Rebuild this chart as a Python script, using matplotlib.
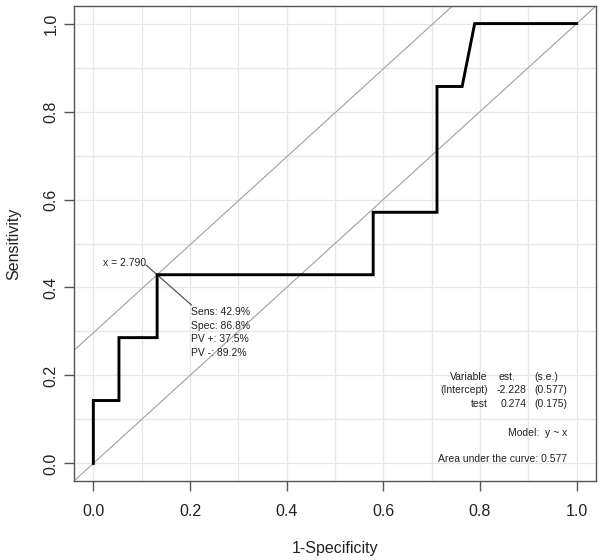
import matplotlib
matplotlib.use("Agg")
import matplotlib.pyplot as plt
import numpy as np

plt.rcParams['font.family'] = ['Liberation Sans', 'DejaVu Sans']

# ROC curve data (1-Specificity, Sensitivity)
fpr = [0.0, 0.0, 0.053, 0.053, 0.132, 0.132, 0.579, 0.579, 0.711, 0.711, 0.763, 0.789, 1.0]
tpr = [0.0, 0.143, 0.143, 0.286, 0.286, 0.429, 0.429, 0.571, 0.571, 0.857, 0.857, 1.0, 1.0]

# optimal cut point
opt_fpr = 0.132
opt_tpr = 0.429
opt_label = "x = 2.790"
opt_stats = ["Sens: 42.9%", "Spec: 86.8%", "PV +: 37.5%", "PV -: 89.2%"]

# model table
tbl_var = ["Variable", "(Intercept)", "test"]
tbl_est = ["est.", "-2.228", "0.274"]
tbl_se = ["(s.e.)", "(0.577)", "(0.175)"]
model_text = "Model:  y ~ x"
auc_text = "Area under the curve: 0.577"

xticks = [0.0, 0.2, 0.4, 0.6, 0.8, 1.0]
yticks = [0.0, 0.2, 0.4, 0.6, 0.8, 1.0]
grid_vals = np.round(np.arange(0, 1.01, 0.1), 1)

fig = plt.figure(figsize=(6, 5.6), dpi=100)
ax = fig.add_axes([74/600, 1-481/560, (596-74)/600, (481-6)/560])
ax.set_xlim(-0.04, 1.04)
ax.set_ylim(-0.04, 1.04)

for g in grid_vals:
    ax.axvline(g, color='#e6e6e6', lw=0.9, zorder=0)
    ax.axhline(g, color='#e6e6e6', lw=0.9, zorder=0)

# diagonal lines
ax.axline((0, 0), slope=1, color='#a0a0a0', lw=0.8, zorder=1)
ax.axline((opt_fpr, opt_tpr), slope=1, color='#a0a0a0', lw=0.8, zorder=1)

ax.plot(fpr, tpr, color='black', lw=2.1, zorder=3, solid_joinstyle='miter')

fs = 7.5
tc = '#222222'
# annotation for optimal point
ax.plot([opt_fpr - 0.023, opt_fpr, opt_fpr + 0.071], [opt_tpr + 0.022, opt_tpr, opt_tpr - 0.069],
        color='#444444', lw=0.8, zorder=2)
ax.text(opt_fpr - 0.022, opt_tpr + 0.027, opt_label, ha='right', va='center', fontsize=fs, color=tc)
for i, s in enumerate(opt_stats):
    ax.text(opt_fpr + 0.071, opt_tpr - 0.085 - i * 0.031, s, ha='left', va='center', fontsize=fs, color=tc)

# table
row_y = [0.196, 0.166, 0.136]
for i in range(3):
    ax.text(0.816, row_y[i], tbl_var[i], ha='right', va='center', fontsize=fs, color=tc)
    if i == 0:
        ax.text(0.839, row_y[i], tbl_est[i], ha='left', va='center', fontsize=fs, color=tc)
    else:
        ax.text(0.897, row_y[i], tbl_est[i], ha='right', va='center', fontsize=fs, color=tc)
    ax.text(0.913, row_y[i], tbl_se[i], ha='left', va='center', fontsize=fs, color=tc)
ax.text(0.981, 0.068, model_text, ha='right', va='center', fontsize=fs, color=tc)
ax.text(0.981, 0.009, auc_text, ha='right', va='center', fontsize=fs, color=tc)

for sp in ax.spines.values():
    sp.set_color('#555555')
    sp.set_linewidth(1.0)

ax.set_xticks(xticks)
ax.set_yticks(yticks)
ax.set_xticklabels([f"{v:.1f}" for v in xticks])
ax.set_yticklabels([f"{v:.1f}" for v in yticks], rotation=90, va='center')
ax.tick_params(axis='both', direction='out', length=7, width=1.0, color='#555555',
               labelsize=11.5, labelcolor='#222222')
ax.tick_params(axis='x', pad=9.5)
ax.tick_params(axis='y', pad=4)
ax.set_xlabel("1-Specificity", fontsize=11.5, color='#222222', labelpad=16)
ax.set_ylabel("Sensitivity", fontsize=11.5, color='#222222', labelpad=16)

fig.savefig("out.png", dpi=100)
